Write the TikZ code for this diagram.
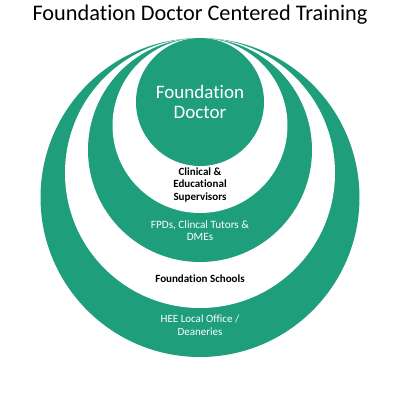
\documentclass[tikz,border=0pt]{standalone}
\usepackage{fontspec}
\setmainfont[Ligatures=NoCommon]{Carlito}
\definecolor{ringgreen}{RGB}{30,158,122}
\begin{document}
\begin{tikzpicture}[x=1pt,y=-1pt,
  disc/.style={circle,inner sep=0pt,outer sep=0pt,draw=none},
  greendisc/.style={disc,fill=ringgreen},
  whitedisc/.style={disc,fill=white},
  whitelabel/.style={text=white,align=center,inner sep=0pt},
  darklabel/.style={text=black,align=center,inner sep=0pt,font=\fontsize{11}{12.5}\selectfont\bfseries}]
\useasboundingbox (0,0) rectangle (400,400);
\node[greendisc,minimum size=319pt] (outer) at (200,197.5) {};
\node[whitedisc,minimum size=270pt] (ringtwo) at (200,173) {};
\node[greendisc,minimum size=224pt] (ringthree) at (200,150) {};
\node[whitedisc,minimum size=175pt] (ringfour) at (200,125.5) {};
\node[greendisc,minimum size=128pt] (core) at (200,102) {};
\node[inner sep=0pt,font=\fontsize{22.3}{26}\selectfont] (title) at (200,15) {Foundation Doctor Centered Training};
\node[whitelabel,font=\fontsize{19}{20}\selectfont] (fd) at (200,102) {Foundation\\Doctor};
\node[darklabel] (ces) at (200,185) {Clinical \&\\Educational\\Supervisors};
\node[whitelabel,font=\fontsize{11.2}{12}\selectfont] (fpd) at (200,231) {FPDs, Clincal Tutors \&\\DMEs};
\node[darklabel] (fs) at (200,279) {Foundation Schools};
\node[whitelabel,font=\fontsize{11}{13}\selectfont] (hee) at (200,325.5) {HEE Local Office /\\Deaneries};
\end{tikzpicture}
\end{document}
